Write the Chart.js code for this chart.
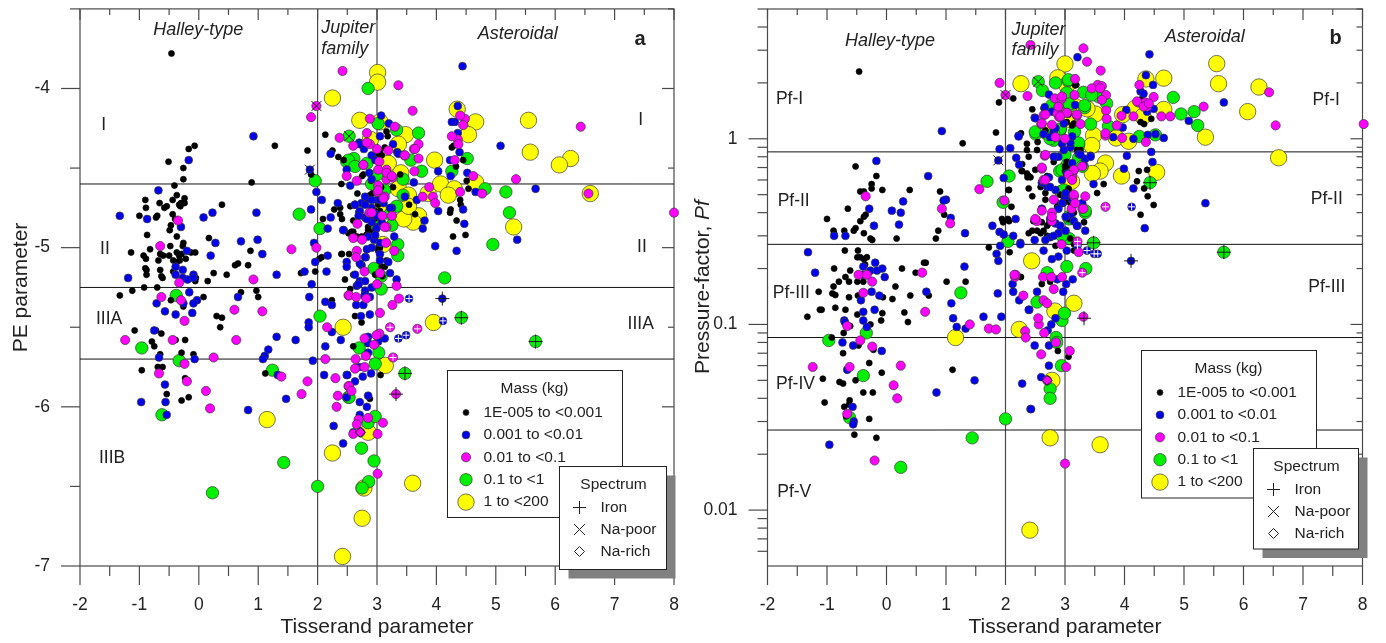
<!DOCTYPE html>
<html>
<head>
<meta charset="utf-8">
<title>PE parameter and Pressure-factor vs Tisserand parameter</title>
<script src="https://cdn.jsdelivr.net/npm/chart.js@4/dist/chart.umd.js"></script>
<style>
  html, body { margin: 0; padding: 0; background: #fff; overflow: hidden; }
  canvas { position: absolute; top: 0; }
  #panelA { left: 0; }
  #panelB { left: 690px; }
</style>
</head>
<body>
<canvas id="panelA" width="690" height="643"></canvas>
<canvas id="panelB" width="696" height="643"></canvas>
<script>
// Legend and tick text
const massLabels = ['1E-005 to <0.001', '0.001 to <0.01', '0.01 to <0.1', '0.1 to <1', '1 to <200'];
const spectrumLabels = ['Iron', 'Na-poor', 'Na-rich'];
const tissTicks = [-2, -1, 0, 1, 2, 3, 4, 5, 6, 7, 8];
const peTicks = [-7, -6, -5, -4];
const pfTicks = [0.01, 0.1, 1];

// Class boundaries
const peLines = [-4.6, -5.25, -5.7];
const pfLines = [0.85, 0.27, 0.085, 0.027];
const tissLines = [2, 3];

// Panel a: [Tisserand, PE]
const aBlack = [[-.46,-3.78],[-.07,-4.36],[-.17,-4.38],[-.51,-4.46],[-.26,-4.5],[-.26,-4.57],[-.41,-4.61],[-.37,-4.67],[-.24,-4.69],[-.44,-4.7],[-.9,-4.7],[-.66,-4.72],[-.3,-4.72],[-.33,-4.73],[-.24,-4.72],[-.89,-4.75],[-.54,-4.74],[-.58,-4.75],[-.31,-4.74],[.39,-4.73],[-1.0,-4.8],[-.7,-4.8],[-.72,-4.81],[-.44,-4.79],[-.4,-4.82],[-.47,-4.86],[-.49,-4.89],[-.87,-4.92],[-.37,-4.93],[.17,-4.94],[-.26,-4.97],[-.48,-4.99],[-.27,-4.99],[-1.14,-5.03],[-.82,-5.01],[-.93,-5.05],[-.65,-5.04],[-.6,-5.05],[-.5,-5.05],[-.89,-5.07],[-.68,-5.08],[-.37,-5.03],[-.33,-5.05],[-.29,-5.04],[-.06,-5.03],[-.13,-5.03],[-.22,-5.07],[-.32,-5.08],[-.43,-5.08],[-.37,-5.09],[.87,-5.02],[.83,-5.11],[.66,-5.1],[.61,-5.11],[-.9,-5.13],[-.88,-5.14],[-.65,-5.14],[-.63,-5.18],[-.61,-5.19],[-.88,-5.17],[-.43,-5.15],[-.05,-5.19],[-.06,-5.21],[.15,-5.21],[.25,-5.16],[.47,-5.17],[1.72,-5.16],[1.96,-5.15],[-1.12,-5.27],[-.92,-5.25],[-.7,-5.25],[-1.33,-5.3],[.08,-5.31],[.71,-5.28],[.97,-5.27],[1.0,-5.31],[-.47,-5.33],[-.26,-5.37],[.3,-5.43],[.39,-5.44],[2.24,-5.33],[2.13,-4.29],[2.25,-4.39],[2.35,-4.43],[2.44,-4.45],[1.28,-4.36],[1.83,-4.39],[.89,-4.59],[1.89,-4.54],[2.4,-4.6],[2.28,-4.76],[2.38,-4.75],[2.38,-4.79],[2.41,-4.82],[2.09,-4.82],[2.07,-5.06],[2.03,-5.07],[2.41,-5.04],[-1.08,-5.52],[-.72,-5.52],[-.63,-5.54],[-.79,-5.59],[-.75,-5.62],[-.39,-5.58],[-.23,-5.58],[.36,-5.5],[-.65,-5.67],[-.29,-5.66],[-.09,-5.67],[-.69,-5.75],[-.61,-5.75],[-.96,-5.77],[-.23,-5.82],[-.54,-5.92],[-.29,-5.96],[-.17,-5.94],[1.12,-5.79],[3.16,-4.27],[3.18,-4.3],[3.13,-4.37],[3.05,-4.39],[3.05,-4.41],[2.75,-4.55],[2.67,-4.66],[2.87,-4.69],[2.55,-4.74],[2.6,-4.83],[2.85,-4.81],[3,-4.81],[2.57,-4.9],[2.52,-4.91],[2.66,-4.94],[2.71,-4.94],[2.85,-4.89],[3.05,-5.0],[2.4,-5.04],[2.53,-5.04],[2.46,-5.2],[2.6,-5.17],[2.97,-5.17],[3.13,-5.12],[3.09,-5.18],[2.55,-5.26],[2.63,-5.43],[4.26,-4.37],[4.29,-4.36],[4.33,-4.49],[4.45,-4.45],[4.51,-4.58],[4.54,-4.63],[4.4,-4.7],[4.41,-4.73],[4.24,-4.76],[4.23,-4.78],[4.34,-4.83],[4.49,-4.92],[4.28,-4.93],[3.64,-4.79],[3.54,-4.73],[3.39,-4.54],[3.27,-4.62],[2.74,-5.47],[2.6,-5.62],[3.06,-5.8],[2.88,-5.95],[2.95,-4.82],[2.82,-4.92],[2.97,-4.95],[3.02,-5.02],[2.92,-4.66],[3.02,-4.73],[3.07,-4.62],[2.9,-4.58],[2.83,-4.7],[2.88,-4.67],[2.97,-4.77],[3.05,-4.77],[2.91,-4.81],[2.85,-4.87],[2.94,-4.9],[3.02,-5],[2.6,-4.9],[3.0,-4.41],[3.08,-4.42],[2.77,-4.54],[2.66,-4.93],[2.74,-4.93],[3.08,-5.12],[3.16,-5.08]];
const aBlue = [[.92,-4.3],[-.17,-4.45],[-.68,-4.64],[-1.33,-4.8],[-.87,-4.82],[.23,-4.78],[.08,-4.81],[.97,-4.78],[-.3,-4.87],[.28,-4.97],[.71,-4.96],[.99,-4.95],[1.07,-5.04],[.2,-5.05],[-.2,-5.02],[-.39,-5.12],[-.27,-5.14],[-.09,-5.17],[-1.19,-5.19],[-.39,-5.17],[-.27,-5.19],[-.19,-5.2],[-.09,-5.19],[1.31,-5.17],[-.16,-5.28],[-.71,-5.35],[-.26,-5.35],[-.03,-5.33],[-.09,-5.35],[.66,-5.31],[-.57,-5.4],[-.39,-5.42],[-.11,-5.41],[1.89,-4.76],[1.98,-4.65],[2.07,-4.7],[2.22,-4.81],[2.34,-4.72],[2.17,-4.88],[2.44,-4.89],[1.94,-4.97],[2.17,-5.05],[1.96,-5.09],[1.78,-5.15],[2.15,-5.15],[1.9,-5.23],[1.86,-5.31],[2.13,-5.34],[2.24,-5.36],[2.49,-5.09],[2.49,-4.51],[2.22,-4.41],[1.87,-4.51],[-.75,-5.52],[1.85,-5.47],[1.85,-5.5],[-.67,-5.69],[-.07,-5.7],[1.31,-5.56],[1.17,-5.64],[1.11,-5.68],[1.08,-5.7],[1.63,-5.58],[1.92,-5.71],[2.13,-5.62],[2.11,-5.8],[2.39,-5.58],[2.24,-5.53],[2.49,-5.8],[1.33,-5.8],[-.57,-5.86],[-.97,-5.97],[-.56,-5.97],[-.54,-6.05],[1.47,-5.95],[.83,-6.02],[2.27,-6.12],[2.43,-6.23],[2.49,-5.94],[4.44,-3.86],[4.36,-4.11],[4.31,-4.21],[4.26,-4.21],[4.36,-4.28],[5.08,-4.36],[4.39,-4.4],[4.23,-4.45],[4.03,-4.52],[4.24,-4.55],[4.52,-4.53],[4.66,-4.65],[5.67,-4.63],[4.03,-4.77],[4.45,-4.76],[3.8,-4.83],[3.77,-4.88],[4.47,-4.85],[5.36,-4.95],[3.98,-4.99],[4.34,-5.02],[3.07,-4.17],[3.2,-4.22],[2.7,-4.34],[3.05,-4.3],[2.78,-4.38],[2.91,-4.42],[3.27,-4.35],[3.34,-4.4],[2.87,-4.53],[2.55,-4.61],[3.62,-4.59],[3.47,-4.68],[3.67,-4.7],[3.25,-4.75],[2.8,-4.68],[2.74,-4.72],[2.63,-4.73],[3,-4.7],[3.11,-4.72],[2.91,-4.75],[2.7,-4.78],[3,-4.79],[2.91,-4.84],[2.8,-4.81],[2.43,-4.89],[3,-4.87],[3.29,-4.93],[2.83,-5.01],[3.05,-5.04],[2.95,-4.95],[2.49,-5.12],[2.81,-5.06],[3.19,-5.09],[2.74,-5.11],[3.22,-5.16],[3.33,-5.2],[2.63,-5.17],[2.71,-5.21],[2.91,-5.25],[2.66,-5.24],[2.8,-5.27],[2.88,-5.31],[2.79,-5.3],[2.65,-5.36],[2.77,-5.36],[2.88,-5.42],[2.73,-5.43],[2.85,-5.56],[3.13,-5.57],[3.02,-5.59],[2.85,-5.6],[2.85,-5.66],[2.7,-5.75],[2.9,-5.79],[2.76,-5.81],[2.63,-5.84],[2.5,-5.8],[2.85,-5.93],[2.71,-5.97],[2.83,-6.0],[2.71,-6.05],[2.6,-6.16],[4.1,-5.32],[3.54,-5.32],[3.36,-5.57],[3.49,-5.55],[4.11,-5.46],[2.71,-4.77],[2.8,-4.73],[2.91,-4.7],[3.05,-4.7],[3.13,-4.68],[2.69,-4.8],[2.83,-4.82],[2.99,-4.8],[3.08,-4.84],[2.99,-4.88],[2.97,-4.92],[3.05,-4.97],[2.85,-4.93],[2.91,-5],[2.8,-5.06],[2.71,-5.1],[3.05,-5.08],[2.8,-5.21],[2.69,-5.23],[3.22,-4.75],[2.63,-4.73],[3.36,-4.41],[2.71,-4.35],[2.97,-4.45],[2.91,-4.57]];
const aMagenta = [[2.42,-3.89],[1.98,-4.11],[1.89,-4.18],[2.37,-4.31],[2.49,-4.55],[-.35,-4.83],[-.65,-4.99],[1.56,-5.01],[1.98,-5.0],[.92,-5.2],[-.33,-5.22],[-.63,-5.31],[-.3,-5.33],[.6,-5.39],[1.07,-5.4],[-.24,-5.46],[2.52,-5.3],[-1.24,-5.58],[-.44,-5.58],[.63,-5.58],[.25,-5.69],[-.24,-5.73],[-.67,-5.79],[-.2,-5.84],[.12,-5.9],[.19,-6.01],[1.39,-5.81],[1.83,-5.84],[1.73,-5.92],[2.13,-5.7],[2.16,-5.5],[2.3,-5.82],[2.34,-5.93],[2.32,-6.0],[2.52,-5.87],[3.36,-3.98],[3.6,-4.14],[2.88,-4.19],[3.3,-4.24],[2.83,-4.28],[2.6,-4.36],[2.88,-4.35],[3.7,-4.35],[3.62,-4.38],[3.19,-4.39],[3,-4.38],[3.46,-4.42],[3.04,-4.46],[2.77,-4.48],[3.7,-4.44],[3.63,-4.52],[3.16,-4.51],[2.66,-4.58],[3.16,-4.57],[3.26,-4.56],[3.02,-4.61],[3.01,-4.65],[3.88,-4.62],[3.77,-4.68],[3.94,-4.68],[3.98,-4.72],[3.13,-4.68],[2.87,-4.78],[3.09,-4.8],[3.16,-4.87],[2.67,-4.85],[2.6,-4.94],[2.75,-4.95],[3.15,-4.97],[2.66,-5.02],[2.65,-5.06],[3.29,-5.02],[2.79,-5.15],[3.05,-5.16],[3.33,-5.24],[3,-5.23],[2.53,-5.3],[2.65,-5.31],[2.82,-5.32],[3.37,-5.32],[3.26,-5.36],[3.05,-5.41],[4.36,-4.32],[4.26,-4.3],[4.37,-4.35],[4.48,-4.19],[4.45,-4.23],[4.4,-4.17],[4.31,-4.45],[4.62,-4.55],[4.4,-4.65],[4.77,-4.66],[5.34,-4.57],[6.43,-4.24],[6.56,-4.66],[8,-4.78],[2.79,-5.57],[3.04,-5.54],[2.99,-5.55],[2.95,-5.61],[2.64,-5.7],[2.81,-5.68],[2.63,-5.76],[2.79,-5.75],[2.53,-5.87],[2.57,-5.9],[2.85,-6.07],[2.69,-6.08],[2.66,-6.11],[3.1,-6.1],[3.01,-6.17],[2.6,-6.17],[3.01,-6.42],[3.32,-5.92],[3.68,-5.51],[3.22,-5.5],[3.27,-5.69],[2.72,-6.16],[3.02,-4.51],[3.16,-4.53],[3.25,-4.55],[3.02,-4.64],[3.11,-4.69],[3.13,-4.87],[2.91,-4.78],[3.25,-4.8],[2.83,-4.34],[2.77,-4.48],[3.64,-4.38],[3.47,-4.42]];
const aGreen = [[1.69,-4.79],[1.96,-4.58],[2.04,-4.88],[-.38,-5.3],[2.04,-5.43],[2.53,-4.3],[2.49,-4.46],[-.96,-5.63],[-.33,-5.71],[-.62,-6.05],[1.24,-5.77],[1.43,-6.35],[.23,-6.54],[2.0,-6.5],[2.52,-5.94],[2.85,-4.0],[3.02,-4.22],[3.33,-4.26],[3.7,-4.28],[2.61,-4.44],[2.52,-4.45],[3.57,-4.45],[3.75,-4.52],[3.01,-4.54],[2.63,-4.49],[2.83,-4.47],[2.91,-4.6],[3.44,-4.57],[3.13,-4.64],[3.44,-4.67],[3.33,-4.74],[3.22,-4.79],[4.26,-4.52],[4.52,-4.44],[4.82,-4.63],[5.17,-4.65],[5.23,-4.78],[4.95,-4.98],[3.35,-4.98],[3.35,-5.05],[2.95,-5.13],[3.07,-5.18],[3.07,-5.26],[4.14,-5.19],[3.25,-4.86],[2.97,-4.85],[2.7,-5.63],[3.03,-5.66],[2.97,-5.73],[2.85,-6.1],[2.97,-6.06],[2.53,-5.94],[2.74,-6.26],[2.95,-6.34],[2.86,-6.47],[2.75,-6.51],[4.42,-5.44],[5.67,-5.59],[3.47,-5.79]];
const aYellow = [[3.01,-3.9],[3.01,-3.96],[2.25,-4.06],[2.71,-4.2],[3.05,-4.21],[4.35,-4.13],[4.66,-4.21],[4.54,-4.29],[5.55,-4.2],[5.58,-4.4],[6.26,-4.44],[6.07,-4.48],[3.97,-4.45],[3.48,-4.29],[3.36,-4.35],[2.89,-4.32],[3.19,-4.47],[3.4,-4.53],[3.36,-4.63],[3.53,-4.67],[3.86,-4.66],[4.07,-4.6],[4.3,-4.63],[4.2,-4.67],[4.66,-4.59],[6.59,-4.66],[5.3,-4.87],[3.7,-4.8],[3.61,-4.84],[3.45,-4.82],[3.53,-4.74],[3.1,-4.98],[3.02,-4.75],[2.43,-5.5],[3.95,-5.47],[3.14,-5.74],[2.25,-6.29],[2.85,-6.16],[3.6,-6.48],[2.78,-6.51],[2.75,-6.7],[2.42,-6.94],[1.15,-6.08]];
const aIron = [[4.1,-5.32],[4.42,-5.44],[5.67,-5.59],[3.47,-5.79],[3.32,-5.92]];
const aIronLight = [[3.54,-5.32],[3.36,-5.57],[3.49,-5.55],[4.11,-5.46],[3.68,-5.51],[3.22,-5.5],[3.27,-5.69]];
const aNaPoor = [[1.98,-4.11],[1.87,-4.51],[2.53,-4.3]];
const aNaRich = [[2.72,-6.16]];

// Panel b: [Tisserand, Pf]
const bBlack = [[-.46,2.3],[1.89,1.57],[2.13,1.65],[1.84,1.08],[1.28,.945],[2.26,1.07],[2.36,.94],[-.52,.71],[-.17,.63],[-.25,.57],[-.25,.54],[-.07,.53],[-.44,.52],[-.38,.52],[.39,.53],[.9,.52],[-.65,.42],[-1.0,.37],[-.35,.39],[-.38,.38],[-.44,.36],[.97,.39],[2.1,.43],[2.06,.53],[2.28,.67],[2.37,.62],[-.89,.32],[-.88,.31],[-.71,.32],[-.55,.32],[-.52,.33],[-.38,.31],[-.27,.29],[-.24,.285],[.17,.29],[.87,.32],[.83,.29],[1.96,.355],[2.06,.36],[1.72,.26],[-.7,.25],[-.48,.25],[2.07,.245],[-.49,.23],[-.44,.23],[-.38,.225],[-.33,.23],[-.36,.21],[-.88,.2],[.26,.2],[.63,.215],[.66,.215],[-.61,.195],[.49,.19],[-.69,.18],[-.63,.17],[-.8,.17],[-.49,.17],[-.39,.17],[1.33,.17],[1.01,.17],[2.26,.18],[.15,.16],[-1.14,.15],[-.89,.16],[-.91,.147],[-.86,.144],[-.63,.14],[-.48,.143],[-.06,.14],[.1,.137],[.4,.143],[.71,.143],[-1.12,.12],[-1.09,.12],[-.86,.123],[-.69,.12],[-.49,.113],[-.07,.115],[.3,.116],[-1.33,.11],[-.61,.098],[-.27,.1],[.36,.103],[-.09,.105],[-.72,.09],[-.92,.085],[-.47,.077],[-.22,.073],[-.73,.07],[-.29,.062],[-.08,.055],[1.11,.057],[-1.07,.051],[-.79,.049],[-.73,.048],[-.52,.05],[-.39,.043],[-.23,.043],[-1.04,.038],[-.62,.039],[-.63,.037],[-.71,.036],[-.68,.032],[-.65,.033],[-.29,.031],[-.54,.0255],[-.17,.0245],[2.45,1.44],[2.54,.96],[2.36,.87],[2.53,.87],[2.27,.67],[2.42,.62],[2.5,.68],[2.59,.55],[2.67,.51],[2.45,.49],[2.67,.47],[2.87,.43],[2.98,.45],[3.03,.47],[2.92,.5],[3.06,.54],[3.17,1.94],[2.64,1.46],[3.03,1.23],[3.12,1.18],[2.67,1.11],[3.09,1.0],[3.2,.87],[3.12,.73],[3.03,.75],[3,.67],[3.54,.51],[3.65,.57],[2.47,.36],[2.61,.355],[2.7,.34],[2.45,.32],[2.39,.31],[2.64,.32],[2.7,.3],[2.59,.31],[3.32,.355],[2.84,.265],[2.95,.27],[3.15,.25],[3.15,.27],[3.09,.29],[2.25,.18],[2.61,.165],[2.75,.17],[4.24,.67],[4.38,.68],[4.21,.59],[4.33,.54],[4.39,.49],[4.49,.44],[4.27,.39],[4.29,1.64],[4.45,1.28],[4.27,1.23],[4.33,1.2],[2.88,.072],[3.06,.067],[3.06,.72],[3,.71],[2.7,.63],[2.67,.59],[3.06,.53],[3.03,.49],[2.98,.47],[3.09,.45],[2.89,.45],[2.87,.43],[3.15,.4],[3.06,.37],[2.73,.35],[2.53,.37],[2.81,.75],[3.19,1.95],[3.06,1.35],[3.15,1.21],[3.26,.87],[2.39,.8],[2.28,.73],[2.36,.65],[2.39,.63],[2.05,.53],[2.39,.54],[2.04,.37],[1.94,.37],[2.53,.32]];
const bBlue = [[.93,1.1],[-.17,.76],[.7,.63],[1.9,.88],[2.08,.89],[2.22,1.04],[2.18,.79],[2.23,.725],[1.88,.765],[1.97,.615],[.28,.46],[1.0,.47],[.96,.465],[.09,.41],[.24,.4],[1.08,.375],[-.29,.42],[.21,.345],[-.21,.34],[-.88,.3],[-.69,.3],[1.78,.34],[2.17,.37],[1.9,.315],[1.97,.305],[2.13,.3],[1.32,.31],[2.25,.275],[1.91,.265],[-1.32,.245],[1.85,.24],[1.88,.22],[-.19,.215],[-.39,.205],[-.27,.195],[-.16,.195],[-.07,.2],[-1.2,.19],[-.03,.18],[1.31,.205],[-.4,.185],[.67,.15],[2.12,.165],[2.13,.15],[1.87,.147],[-.25,.15],[-.12,.143],[2.23,.135],[-.43,.135],[1.09,.13],[-.2,.12],[-.39,.117],[1.63,.11],[1.93,.11],[1.12,.108],[-.71,.105],[-.39,.105],[2.4,.12],[-.7,.103],[-.33,.097],[-.74,.08],[-.56,.077],[-.08,.072],[1.18,.097],[1.33,.095],[-.66,.057],[1.48,.05],[.84,.043],[2.28,.048],[-.57,.036],[2.42,.035],[-.55,.03],[-.56,.029],[-.96,.0225],[2.49,.077],[2.73,.077],[2.43,.035],[2.73,.06],[2.6,.052],[2.71,.093],[2.77,.1],[4.42,2.85],[4.36,2.2],[3.21,2.75],[4.48,1.95],[4.27,1.8],[4.32,1.75],[2.73,1.73],[2.66,1.48],[4.38,1.4],[4.49,1.45],[4.03,1.43],[2.49,1.3],[5.08,1.25],[5.67,1.57],[3.97,1.15],[4.52,1.06],[4.39,1.05],[4.66,1.01],[4.15,1.0],[3.81,1.02],[2.22,1.03],[2.84,.8],[4.45,.85],[4.04,.81],[4.47,.75],[3.99,.69],[4.15,.54],[3.48,.57],[5.36,.45],[4.34,.33],[3.29,.45],[2.87,1.36],[2.81,1.09],[2.75,1.02],[2.95,.94],[3.09,.9],[3.23,.83],[3.34,.78],[3.43,.81],[2.64,1.06],[2.7,.55],[2.61,.58],[2.73,.62],[2.84,.53],[3,.49],[2.95,.45],[3.09,.39],[3.15,.36],[3.21,.34],[3.34,.32],[2.78,.38],[2.84,.35],[2.89,.31],[2.75,.295],[2.67,.285],[2.49,.285],[3.03,.25],[2.25,.27],[2.89,.232],[2.78,.225],[2.64,.25],[2.87,.175],[3.02,.165],[3.13,.175],[2.97,.15],[2.53,.15],[2.39,.12],[2.84,.108],[4.11,.22],[4.12,.43],[3.37,.25],[3.49,.24],[3.55,.24],[3.21,.265],[3.09,.95],[2.98,.87],[2.89,.8],[3.12,.74],[2.81,.8],[3.03,.65],[2.95,.6],[2.75,.55],[2.64,.58],[3.01,.51],[3.12,.47],[2.89,.42],[3.01,.38],[2.75,.37],[3.2,.34],[3.01,.32],[2.81,.3],[2.92,.34],[2.61,.42],[3.31,.72],[3.43,.8],[3.26,.82],[2.78,1.4],[3.17,1.52],[2.98,1.21],[3.12,1.03],[2.84,1.14],[2.5,1.29]];
const bMagenta = [[1.9,2.0],[2.37,1.7],[2.0,1.72],[1.56,.535],[.93,.42],[1.07,.35],[1.98,.465],[-.35,.49],[-.47,.185],[-.33,.185],[-.24,.17],[.6,.19],[-.39,.148],[.65,.117],[2.16,.18],[2.17,.185],[2.3,.143],[-.66,.098],[-.44,.082],[-.24,.076],[-.62,.059],[-1.24,.059],[.24,.06],[.12,.047],[.18,.04],[-.66,.033],[-.2,.0185],[1.4,.1],[1.72,.095],[1.84,.094],[2.33,.092],[2.34,.085],[2.56,.1],[2.65,.09],[2.85,.08],[3.08,.072],[2.6,.069],[3.02,.059],[3,.0178],[2.7,.05],[2.42,3.2],[3.31,3.07],[3.37,2.6],[3.6,2.33],[3.17,2.1],[3.55,1.95],[3.62,1.92],[3.69,1.72],[4.25,1.95],[4.49,1.68],[4.23,1.57],[4.38,1.49],[4.35,1.57],[5.33,1.49],[6.43,1.78],[6.54,1.18],[8.02,1.2],[3.69,1.42],[3.7,1.28],[3.87,1.18],[3.95,1.33],[4.15,1.32],[4.62,1.32],[4.77,1.32],[2.83,1.65],[2.94,1.64],[2.89,1.48],[2.9,1.31],[3.03,1.38],[2.64,1.34],[2.6,1.2],[2.78,1.19],[3.2,1.33],[3.26,1.2],[3,1.0],[2.84,1.02],[3.68,1.04],[3.96,1.01],[4.36,.96],[2.66,.81],[2.61,.69],[3.29,.71],[3.13,.66],[3.12,.62],[2.64,.6],[3.68,.43],[3.34,.49],[2.81,.47],[3.15,.49],[3.11,.42],[3.29,.42],[2.61,.41],[2.78,.4],[2.53,.36],[2.78,.36],[3.21,.28],[3.23,.245],[2.94,.27],[3.29,.19],[2.63,.18],[2.15,.185],[2.77,.18],[2.95,.18],[2.81,.155],[2.64,.135],[2.7,.13],[3.31,.11],[2.55,.108],[3.2,1.35],[2.67,.82],[2.61,.7],[3.15,.68],[3.06,.64],[3.12,.6],[2.67,.6],[3.15,.5],[3.17,.45],[3.31,.42],[2.5,.37],[2.78,.38],[2.87,1.37],[2.95,1.69],[3.16,1.72],[3.45,1.87],[3.59,1.87],[2.89,1.49],[3.03,1.38],[2.92,1.32],[2.61,1.21],[2.67,1.35],[3.62,1.62],[3.68,1.07],[4.21,1.59],[4.32,1.49],[4.41,1.55]];
const bGreen = [[1.69,.59],[2.06,.63],[1.96,.455],[2.04,.28],[1.25,.148],[-.97,.082],[-.34,.09],[-.39,.053],[-.62,.0315],[2.0,.031],[1.44,.0245],[.24,.017],[2.85,.085],[2.86,.08],[2.94,.06],[2.75,.045],[2.75,.04],[2.95,.105],[2.55,2.03],[2.62,1.82],[3.05,2.05],[2.84,2.0],[3.31,1.78],[3.03,1.75],[3.57,1.68],[3.45,1.72],[3.7,1.55],[3.07,1.5],[3.33,1.47],[2.81,1.47],[3.73,1.17],[3.43,1.2],[2.92,1.12],[3.16,1.09],[2.51,1.06],[4.82,1.67],[4.95,1.36],[5.17,1.4],[5.23,1.18],[4.25,1.03],[4.52,1.05],[3.0,.82],[3.23,.93],[2.81,.98],[3.23,.79],[2.91,.67],[4.43,.58],[2.93,.52],[3.34,.4],[3.07,.37],[3.07,.29],[2.95,.3],[3.48,.275],[5.67,.245],[3.03,.205],[3.35,.2],[2.7,.19],[2.53,.132],[2.99,.115],[3.06,2.08],[3.03,1.77],[3.33,1.51],[3.07,1.54],[2.92,1.13],[2.5,1.09],[2.78,1.52],[3.23,.95],[3.03,.72],[2.95,.68],[3.29,.71],[3.06,.38],[3.34,.41],[2.98,.53],[2.81,1.07],[2.75,1.0]];
const bYellow = [[3.0,2.53],[2.88,2.13],[2.26,1.98],[4.36,2.1],[4.66,2.12],[5.55,2.54],[5.58,1.98],[6.26,1.9],[6.07,1.4],[6.59,.79],[5.36,1.02],[4.66,1.44],[4.18,1.46],[4.31,1.32],[3.97,1.35],[3.86,1.01],[4.07,.97],[3.48,1.04],[3.45,.92],[3.51,1.36],[3.37,1.45],[3.13,1.48],[3.68,.74],[3.59,.67],[3.46,.65],[3.95,.63],[4.54,.66],[3.11,.59],[2.7,1.09],[3.03,1.94],[3.15,.13],[2.44,.22],[2.83,.118],[1.16,.085],[2.23,.094],[2.75,.0245],[3.59,.0225],[2.41,.0078],[2.78,.05],[3.17,1.49],[3.06,1.4],[3.09,1.27]];
const bIron = [[4.11,.22],[3.32,.108],[4.43,.58],[3.48,.275],[5.67,.245]];
const bIronLight = [[4.12,.43],[3.37,.25],[3.49,.24],[3.55,.24],[3.21,.265],[3.68,.43],[3.21,.28],[3.29,.19]];
const bNaPoor = [[2.0,1.72],[1.88,.765],[2.55,2.03]];
const bNaRich = [[2.7,.05]];

const DARK = '#222';
const FRAME = '#4a4a4a';
const FONT = "'Liberation Sans', Arial, sans-serif";

// one entry per mass class, same order as massLabels
const massStyles = [
    { color: '#000000', r: 3 },
    { color: '#0000f0', r: 3.9 },
    { color: '#ff00ff', r: 4.6 },
    { color: '#00f000', r: 6.2 },
    { color: '#ffff00', r: 8.2 }
];

const scatter = (data, style) => ({
    data,
    pointRadius: style.r,
    pointHoverRadius: style.r,
    pointBackgroundColor: style.color,
    pointBorderColor: style.color === '#000000' ? '#000000' : '#3a3a3a',
    pointBorderWidth: 0.7,
    showLine: false,
    clip: false
});

const overlay = (data, pointStyle, r, color, width) => ({
    data,
    pointStyle,
    pointRadius: r,
    pointHoverRadius: r,
    pointBackgroundColor: 'rgba(0,0,0,0)',
    pointBorderColor: color,
    pointBorderWidth: width,
    showLine: false,
    clip: false
});

function text(ctx, str, x, y, font, align) {
    ctx.font = font;
    ctx.textAlign = align || 'center';
    ctx.textBaseline = 'middle';
    ctx.fillStyle = DARK;
    ctx.fillText(str, x, y);
}

function line(ctx, x1, y1, x2, y2) {
    ctx.beginPath();
    ctx.moveTo(x1, y1);
    ctx.lineTo(x2, y2);
    ctx.stroke();
}

// Chart.js pads the chart area for the outer tick labels, the frame has to sit exactly
const noPadding = s => {
    s.paddingLeft = 0;
    s.paddingRight = 0;
    s.paddingTop = 0;
    s.paddingBottom = 0;
};

// Frame, ticks and class lines, drawn under the points
const framePlugin = {
    id: 'frame',
    beforeDatasetsDraw(chart, args, opts) {
        const { ctx, chartArea: a, scales: { x, y } } = chart;
        ctx.save();
        ctx.strokeStyle = FRAME;
        ctx.lineWidth = 1.2;
        ctx.strokeRect(a.left, a.top, a.right - a.left, a.bottom - a.top);
        opts.xMajor.forEach(v => {
            const px = x.getPixelForValue(v);
            line(ctx, px, a.bottom, px, a.bottom + 19);
            line(ctx, px, a.top, px, a.top + 11);
        });
        opts.xMinor.forEach(v => {
            const px = x.getPixelForValue(v);
            line(ctx, px, a.bottom, px, a.bottom + 10);
            line(ctx, px, a.top, px, a.top + 6);
        });
        opts.yMajor.forEach(v => {
            const py = y.getPixelForValue(v);
            line(ctx, a.left - 19, py, a.left, py);
            line(ctx, a.right - 12, py, a.right, py);
        });
        opts.yMinor.forEach(v => {
            const py = y.getPixelForValue(v);
            line(ctx, a.left - 10, py, a.left, py);
            line(ctx, a.right - 6, py, a.right, py);
        });
        opts.vLines.forEach(v => {
            const px = x.getPixelForValue(v);
            line(ctx, px, a.top, px, a.bottom);
        });
        ctx.strokeStyle = '#111';
        ctx.lineWidth = 1;
        opts.hLines.forEach(v => {
            const py = y.getPixelForValue(v);
            line(ctx, a.left, py, a.right, py);
        });
        ctx.restore();
    }
};

// Region names and the two legend boxes, drawn over the points
const notesPlugin = {
    id: 'notes',
    afterDatasetsDraw(chart, args, opts) {
        const { ctx, scales: { x, y } } = chart;
        ctx.save();
        opts.notes.forEach(n => {
            text(ctx, n.t, x.getPixelForValue(n.x), y.getPixelForValue(n.y), n.font, n.align);
        });
        if (opts.yTitle) {
            ctx.translate(opts.yTitle.x, opts.yTitle.y);
            ctx.rotate(-Math.PI / 2);
            ctx.font = `21px ${FONT}`;
            const w1 = ctx.measureText('Pressure-factor, ').width;
            ctx.font = `italic 21px ${FONT}`;
            const w2 = ctx.measureText('Pf').width;
            text(ctx, 'Pressure-factor, ', -(w1 + w2) / 2, 0, `21px ${FONT}`, 'left');
            text(ctx, 'Pf', -(w1 + w2) / 2 + w1, 0, `italic 21px ${FONT}`, 'left');
            ctx.setTransform(1, 0, 0, 1, 0, 0);
        }

        // Mass box
        const m = opts.mass;
        ctx.fillStyle = '#fff';
        ctx.strokeStyle = '#222';
        ctx.lineWidth = 1;
        ctx.fillRect(m.x, m.y, m.w, m.h);
        ctx.strokeRect(m.x, m.y, m.w, m.h);
        text(ctx, 'Mass (kg)', m.x + m.w / 2 - 0.5, m.y + 18.5, `15.5px ${FONT}`);
        massLabels.forEach((label, i) => {
            const ry = m.y + 42 + i * 22.4;
            ctx.beginPath();
            ctx.arc(m.x + 18.5, ry, massStyles[i].r, 0, Math.PI * 2);
            ctx.fillStyle = massStyles[i].color;
            ctx.fill();
            ctx.strokeStyle = '#3a3a3a';
            ctx.lineWidth = 0.7;
            ctx.stroke();
            text(ctx, label, m.x + 36, ry, `15.5px ${FONT}`, 'left');
        });

        // Spectrum box with its shadow
        const s = opts.spectrum;
        ctx.fillStyle = '#808080';
        ctx.fillRect(s.x + 9, s.y + 9, s.w, s.h);
        ctx.fillStyle = '#fff';
        ctx.strokeStyle = '#222';
        ctx.lineWidth = 1;
        ctx.fillRect(s.x, s.y, s.w, s.h);
        ctx.strokeRect(s.x, s.y, s.w, s.h);
        text(ctx, 'Spectrum', s.x + s.w / 2 + 0.5, s.y + 18, `15.5px ${FONT}`);
        spectrumLabels.forEach((label, i) => {
            const ry = s.y + 41 + i * 22;
            const sx = s.x + 20;
            if (i === 0) {
                line(ctx, sx - 6.5, ry, sx + 6.5, ry);
                line(ctx, sx, ry - 6.5, sx, ry + 6.5);
            } else if (i === 1) {
                line(ctx, sx - 5.5, ry - 5.5, sx + 5.5, ry + 5.5);
                line(ctx, sx - 5.5, ry + 5.5, sx + 5.5, ry - 5.5);
            } else {
                ctx.beginPath();
                ctx.moveTo(sx - 5, ry);
                ctx.lineTo(sx, ry - 5);
                ctx.lineTo(sx + 5, ry);
                ctx.lineTo(sx, ry + 5);
                ctx.closePath();
                ctx.stroke();
            }
            text(ctx, label, s.x + 41, ry, `15.5px ${FONT}`, 'left');
        });
        ctx.restore();
    }
};

function makePanel(id, sets, yScale, frame, notes) {
    const [black, blue, magenta, green, yellow, iron, ironLight, naPoor, naRich] = sets;
    const canvas = document.getElementById(id);
    return new Chart(canvas, {
        type: 'scatter',
        data: {
            // the first dataset ends up on top
            datasets: [
                overlay(iron, 'cross', 7, '#1a1a1a', 1),
                overlay(ironLight, 'cross', 3.4, '#ffffff', 1),
                overlay(naPoor, 'crossRot', 7, '#1a1a1a', 1),
                overlay(naRich, 'rectRot', 5, '#1a1a1a', 1),
                scatter(magenta, massStyles[2]),
                scatter(blue, massStyles[1]),
                scatter(black, massStyles[0]),
                scatter(green, massStyles[3]),
                scatter(yellow, massStyles[4])
            ]
        },
        plugins: [framePlugin, notesPlugin],
        options: {
            responsive: false,
            animation: false,
            devicePixelRatio: 1,
            layout: { padding: frame.padding },
            plugins: {
                legend: { display: false },
                tooltip: { enabled: false },
                frame,
                notes
            },
            scales: {
                x: {
                    type: 'linear',
                    min: -2,
                    max: 8,
                    afterFit: s => { s.height = 77; noPadding(s); },
                    afterBuildTicks: s => { s.ticks = tissTicks.map(value => ({ value })); },
                    grid: { display: false },
                    border: { display: false },
                    ticks: { color: DARK, font: { family: FONT, size: 17.5 }, padding: 21, maxRotation: 0, autoSkip: false },
                    title: { display: true, text: 'Tisserand parameter', color: DARK, font: { family: FONT, size: 21 }, padding: { top: 0, bottom: 3 } }
                },
                y: yScale
            }
        }
    });
}

const peMinor = [-3.5, -4.5, -5.5, -6.5];
const tissMinor = [-1.5, -.5, .5, 1.5, 2.5, 3.5, 4.5, 5.5, 6.5, 7.5];
const pfMinor = [.006, .007, .008, .009, .02, .03, .04, .05, .06, .07, .08, .09, .2, .3, .4, .5, .6, .7, .8, .9, 2, 3, 4, 5];

makePanel('panelA',
    [aBlack, aBlue, aMagenta, aGreen, aYellow, aIron, aIronLight, aNaPoor, aNaRich],
    {
        type: 'linear',
        min: -7,
        max: -3.5,
        afterFit: s => { s.width = 80; noPadding(s); },
        afterBuildTicks: s => { s.ticks = peTicks.map(value => ({ value })); },
        grid: { display: false },
        border: { display: false },
        ticks: { color: DARK, font: { family: FONT, size: 17.5 }, padding: 22 },
        title: { display: true, text: 'PE parameter', color: DARK, font: { family: FONT, size: 21 }, padding: { top: 9, bottom: 0 } }
    },
    {
        padding: { top: 8, right: 16, left: 0, bottom: 0 },
        xMajor: tissTicks, xMinor: tissMinor, yMajor: peTicks, yMinor: peMinor,
        vLines: tissLines, hLines: peLines
    },
    {
        notes: [
            { t: 'I', x: -1.6, y: -4.23, font: `17.5px ${FONT}` },
            { t: 'II', x: -1.58, y: -5.01, font: `17.5px ${FONT}` },
            { t: 'IIIA', x: -1.51, y: -5.45, font: `17.5px ${FONT}` },
            { t: 'IIIB', x: -1.46, y: -6.32, font: `17.5px ${FONT}` },
            { t: 'I', x: 7.44, y: -4.2, font: `17.5px ${FONT}` },
            { t: 'II', x: 7.46, y: -5.0, font: `17.5px ${FONT}` },
            { t: 'IIIA', x: 7.44, y: -5.48, font: `17.5px ${FONT}` },
            { t: 'Halley-type', x: -.01, y: -3.63, font: `italic 18px ${FONT}` },
            { t: 'Jupiter', x: 2.06, y: -3.62, font: `italic 18px ${FONT}`, align: 'left' },
            { t: 'family', x: 2.06, y: -3.75, font: `italic 18px ${FONT}`, align: 'left' },
            { t: 'Asteroidal', x: 5.37, y: -3.66, font: `italic 18px ${FONT}` },
            { t: 'a', x: 7.43, y: -3.69, font: `bold 20px ${FONT}` }
        ],
        mass: { x: 447.5, y: 370.5, w: 175, h: 147 },
        spectrum: { x: 559.5, y: 466.5, w: 107, h: 103 }
    }
);

makePanel('panelB',
    [bBlack, bBlue, bMagenta, bGreen, bYellow, bIron, bIronLight, bNaPoor, bNaRich],
    {
        type: 'logarithmic',
        min: 0.005,
        max: 5,
        afterFit: s => { s.width = 77.5; noPadding(s); },
        afterBuildTicks: s => { s.ticks = pfTicks.map(value => ({ value })); },
        grid: { display: false },
        border: { display: false },
        ticks: { color: DARK, font: { family: FONT, size: 17.5 }, padding: 22, callback: v => String(v) }
    },
    {
        padding: { top: 9, right: 23.5, left: 0, bottom: 0 },
        xMajor: tissTicks, xMinor: tissMinor, yMajor: pfTicks, yMinor: pfMinor,
        vLines: tissLines, hLines: pfLines
    },
    {
        yTitle: { x: 13, y: 287 },
        notes: [
            { t: 'Pf-I', x: -1.63, y: 1.64, font: `17.5px ${FONT}` },
            { t: 'Pf-II', x: -1.56, y: .46, font: `17.5px ${FONT}` },
            { t: 'Pf-III', x: -1.6, y: .148, font: `17.5px ${FONT}` },
            { t: 'Pf-IV', x: -1.53, y: .0477, font: `17.5px ${FONT}` },
            { t: 'Pf-V', x: -1.55, y: .0125, font: `17.5px ${FONT}` },
            { t: 'Pf-I', x: 7.39, y: 1.62, font: `17.5px ${FONT}` },
            { t: 'Pf-II', x: 7.4, y: .475, font: `17.5px ${FONT}` },
            { t: 'Pf-III', x: 7.4, y: .158, font: `17.5px ${FONT}` },
            { t: 'Halley-type', x: .06, y: 3.36, font: `italic 18px ${FONT}` },
            { t: 'Jupiter', x: 2.1, y: 3.85, font: `italic 18px ${FONT}`, align: 'left' },
            { t: 'family', x: 2.1, y: 3.0, font: `italic 18px ${FONT}`, align: 'left' },
            { t: 'Asteroidal', x: 5.35, y: 3.53, font: `italic 18px ${FONT}` },
            { t: 'b', x: 7.55, y: 3.45, font: `bold 20px ${FONT}` }
        ],
        mass: { x: 451.5, y: 350.5, w: 175, h: 147.5 },
        spectrum: { x: 563.5, y: 448.5, w: 105, h: 100.5 }
    }
);
</script>
</body>
</html>
